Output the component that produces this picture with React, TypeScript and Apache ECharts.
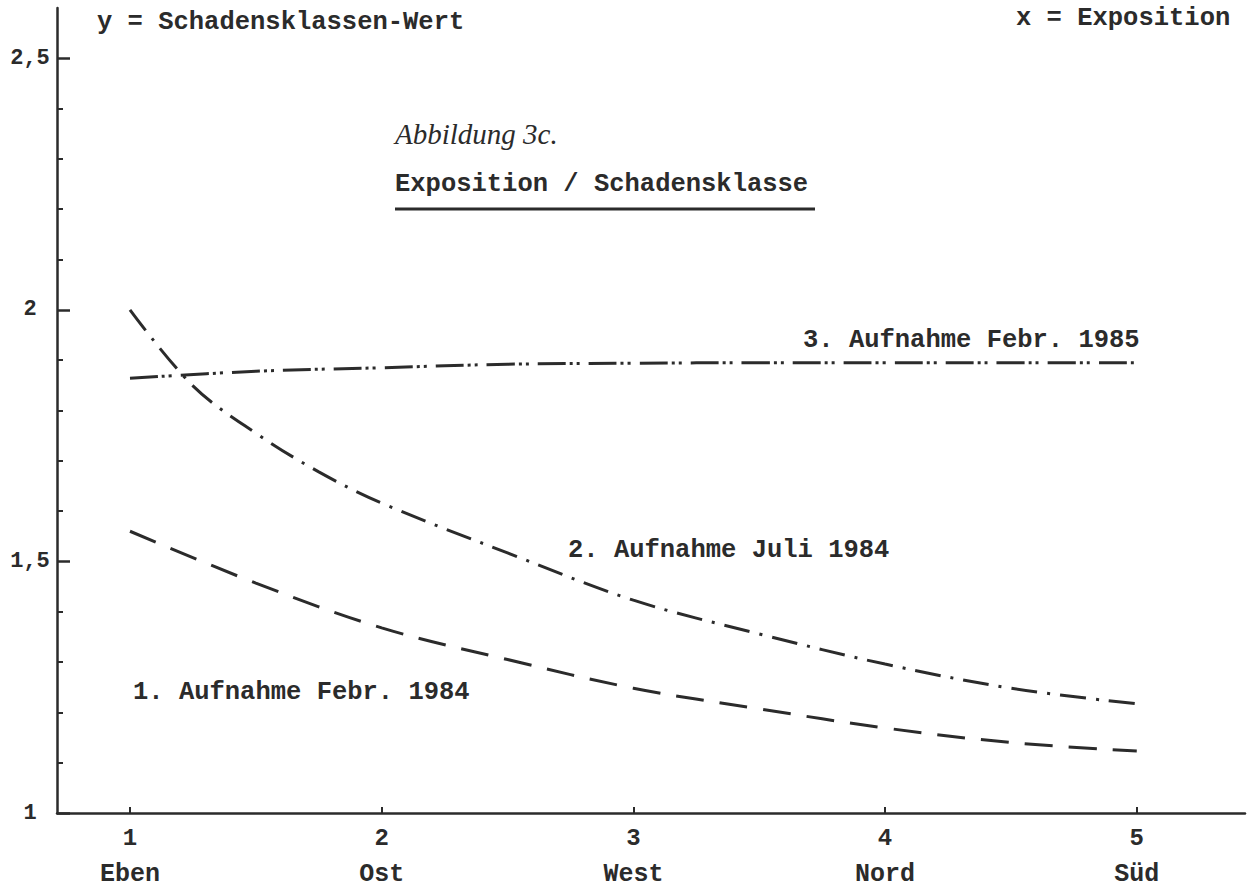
import React, { useEffect, useRef } from "react";
import * as echarts from "echarts";

// ---- data ----
const xTicks = [1, 2, 3, 4, 5];
const xNames = ["Eben", "Ost", "West", "Nord", "Süd"];
const yMajor = [1, 1.5, 2, 2.5];
const yMinor = [1.1, 1.2, 1.3, 1.4, 1.6, 1.7, 1.8, 1.9, 2.1, 2.2, 2.3, 2.4];

const x1 = [1, 1.5, 2, 2.5, 3, 3.5, 4, 4.5, 5];
const y1 = [1.56, 1.457, 1.368, 1.305, 1.248, 1.207, 1.169, 1.14, 1.123];
const x2 = [1, 1.25, 1.5, 1.75, 2, 2.5, 3, 3.5, 4, 4.5, 5];
const y2 = [2.0, 1.849, 1.755, 1.678, 1.616, 1.517, 1.423, 1.356, 1.296, 1.248, 1.217];
const x3 = [1, 1.5, 2, 2.5, 3, 3.5, 4, 4.5, 5];
const y3 = [1.864, 1.878, 1.885, 1.892, 1.894, 1.895, 1.895, 1.895, 1.895];

const seriesNames = [
  "1. Aufnahme Febr. 1984",
  "2. Aufnahme Juli 1984",
  "3. Aufnahme Febr. 1985",
];
const yTitle = "y = Schadensklassen-Wert";
const xTitle = "x = Exposition";
const figTitle = "Abbildung 3c.";
const figSubtitle = "Exposition / Schadensklasse";

const INK = "#2b2b2b";
const MONO = '"Liberation Mono", "DejaVu Sans Mono", monospace';

const zip = (xs: number[], ys: number[]) => xs.map((x, i) => [x, ys[i]]);

export default function App() {
  const ref = useRef<HTMLDivElement>(null);
  useEffect(() => {
    if (!ref.current) return;
    const chart = echarts.init(ref.current, undefined, { renderer: "svg" });
    const monoText = (text: string, x: number, y: number, size = 25.5) => ({
      type: "text",
      x,
      y,
      style: {
        text,
        fill: INK,
        fontFamily: MONO,
        fontWeight: "bold",
        fontSize: size,
        align: "left",
        verticalAlign: "middle",
      },
    });
    const lineBase = {
      type: "line",
      smooth: 0.35,
      symbol: "none",
      silent: true,
    };
    chart.setOption({
      animation: false,
      backgroundColor: "#ffffff",
      grid: { left: 57, right: 4, top: 8, bottom: 79, containLabel: false },
      xAxis: {
        type: "value",
        min: 0.71,
        max: 5.43,
        splitLine: { show: false },
        axisLine: { show: true, lineStyle: { color: INK, width: 2.5 } },
        axisTick: {
          show: true,
          inside: true,
          length: 6,
          customValues: xTicks,
          lineStyle: { color: INK, width: 2 },
        },
        axisLabel: {
          customValues: xTicks,
          margin: 7,
          formatter: (v: number) => `{n|${v}}\n{t|${xNames[Math.round(v) - 1]}}`,
          rich: {
            n: { fontFamily: MONO, fontWeight: "bold", fontSize: 24, lineHeight: 36, color: INK },
            t: { fontFamily: MONO, fontWeight: "bold", fontSize: 25, lineHeight: 36, color: INK },
          },
        },
      },
      yAxis: [
        {
          type: "value",
          position: "left",
          min: 1,
          max: 2.6,
          splitLine: { show: false },
          axisLine: { show: true, lineStyle: { color: INK, width: 2.5 } },
          axisTick: {
            show: true,
            inside: true,
            length: 13,
            customValues: yMajor,
            lineStyle: { color: INK, width: 2.5 },
          },
          axisLabel: {
            customValues: yMajor,
            margin: 27,
            align: "center",
            fontFamily: MONO,
            fontWeight: "bold",
            fontSize: 22,
            color: INK,
            formatter: (v: number) => String(v).replace(".", ","),
          },
        },
        {
          type: "value",
          position: "left",
          min: 1,
          max: 2.6,
          splitLine: { show: false },
          axisLine: { show: false },
          axisTick: {
            show: true,
            inside: true,
            length: 6,
            customValues: yMinor,
            lineStyle: { color: INK, width: 2 },
          },
          axisLabel: { show: false },
        },
      ],
      series: [
        {
          ...lineBase,
          name: seriesNames[0],
          data: zip(x1, y1),
          lineStyle: { color: INK, width: 3, type: [28, 16], cap: "butt" },
        },
        {
          ...lineBase,
          name: seriesNames[1],
          data: zip(x2, y2),
          lineStyle: { color: INK, width: 3, type: [26, 10, 3, 10], cap: "butt" },
        },
        {
          ...lineBase,
          name: seriesNames[2],
          data: zip(x3, y3),
          lineStyle: { color: INK, width: 3, type: [28, 4, 3, 4, 3, 9], cap: "butt" },
        },
      ],
      graphic: [
        monoText(yTitle, 97, 22),
        monoText(xTitle, 1016, 18),
        {
          type: "text",
          x: 395,
          y: 134,
          style: {
            text: figTitle,
            fill: INK,
            fontFamily: '"Liberation Serif", "DejaVu Serif", serif',
            fontStyle: "italic",
            fontSize: 29,
            align: "left",
            verticalAlign: "middle",
          },
        },
        monoText(figSubtitle, 395, 184),
        {
          type: "line",
          shape: { x1: 395, y1: 209, x2: 815, y2: 209 },
          style: { stroke: INK, lineWidth: 3 },
        },
        monoText(seriesNames[2], 803, 340),
        monoText(seriesNames[1], 568, 550),
        monoText(seriesNames[0], 133, 692),
      ],
    });
    return () => chart.dispose();
  }, []);
  return (
    <div
      ref={ref}
      style={{ position: "absolute", left: 0, top: 0, width: 1249, height: 892 }}
    />
  );
}
